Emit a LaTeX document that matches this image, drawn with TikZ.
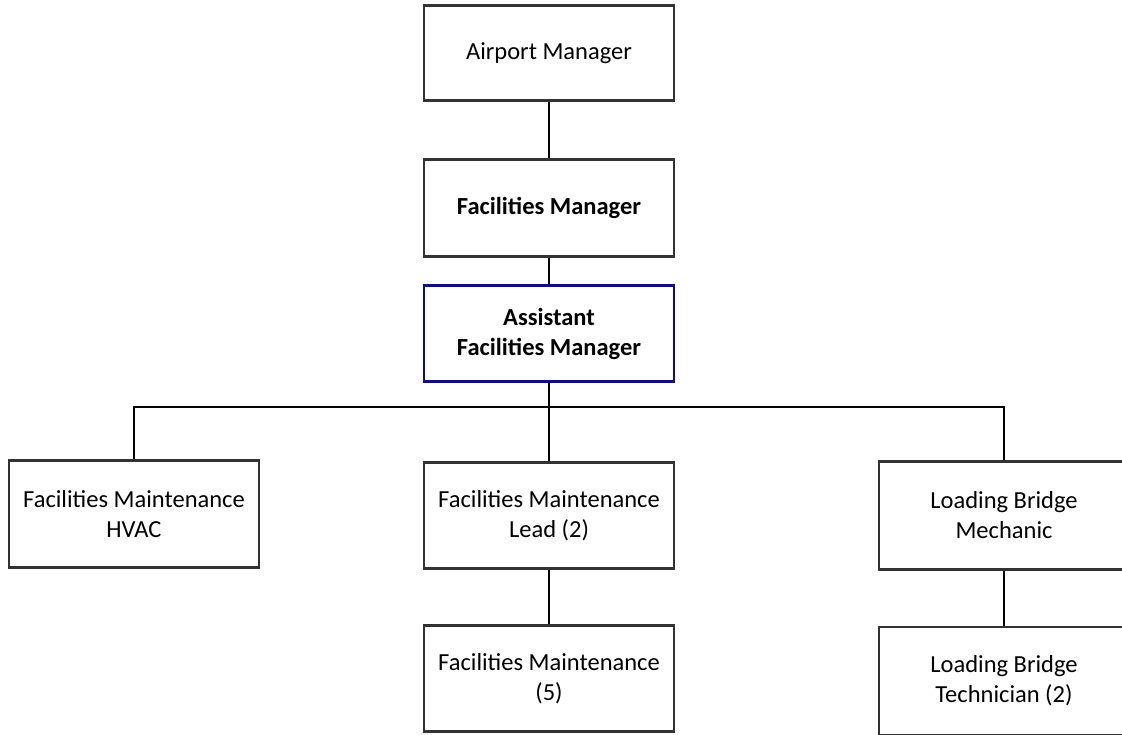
\documentclass[tikz,border=0pt]{standalone}
\usepackage{fontspec}
\setmainfont{Carlito}
\definecolor{boxline}{HTML}{333333}
\definecolor{bluebox}{HTML}{0A0A9E}
\begin{document}
\begin{tikzpicture}[x=1pt,y=-1pt,
  box/.style={draw=boxline,line width=2.6pt,fill=white,rectangle,minimum width=250pt,align=center,inner sep=0pt,
    font=\fontsize{24.5}{30}\selectfont},
  conn/.style={draw=black,line width=1.5pt}]
\useasboundingbox (0,0) rectangle (1122,734);
\clip (0,0) rectangle (1122,734);
\fill[white] (0,0) rectangle (1122,734);
% boxes
\node[box,minimum height=95pt] (am) at (549,53) {Airport Manager};
\node[box,minimum height=97pt,font=\fontsize{24.5}{30}\selectfont\bfseries] (fm) at (549,208) {Facilities Manager};
\node[box,draw=bluebox,minimum height=96pt,font=\fontsize{24.5}{30}\selectfont\bfseries] (afm) at (549,333.5) {Assistant\\Facilities Manager};
\node[box,minimum height=107pt] (hvac) at (134,514) {Facilities Maintenance\\HVAC};
\node[box,minimum height=106pt] (lead) at (549,515.5) {Facilities Maintenance\\Lead (2)};
\node[box,minimum height=108pt] (lbm) at (1004,515.5) {Loading Bridge\\Mechanic};
\node[box,minimum height=106pt] (fm5) at (549,678.5) {Facilities Maintenance\\(5)};
\node[box,minimum height=108pt] (lbt) at (1004,681) {Loading Bridge\\Technician (2)};
% connectors
\coordinate (bus) at (549,407);
\begin{scope}[on background layer/.style={}]
\end{scope}
\draw[conn] (am.south) -- (fm.north);
\draw[conn] (fm.south) -- (afm.north);
\draw[conn] (afm.south) -- (bus);
\draw[conn] (bus) -| (hvac.north);
\draw[conn] (bus) -| (lbm.north);
\draw[conn] (bus) -- (lead.north);
\draw[conn] (lead.south) -- (fm5.north);
\draw[conn] (lbm.south) -- (lbt.north);
\end{tikzpicture}
\end{document}
